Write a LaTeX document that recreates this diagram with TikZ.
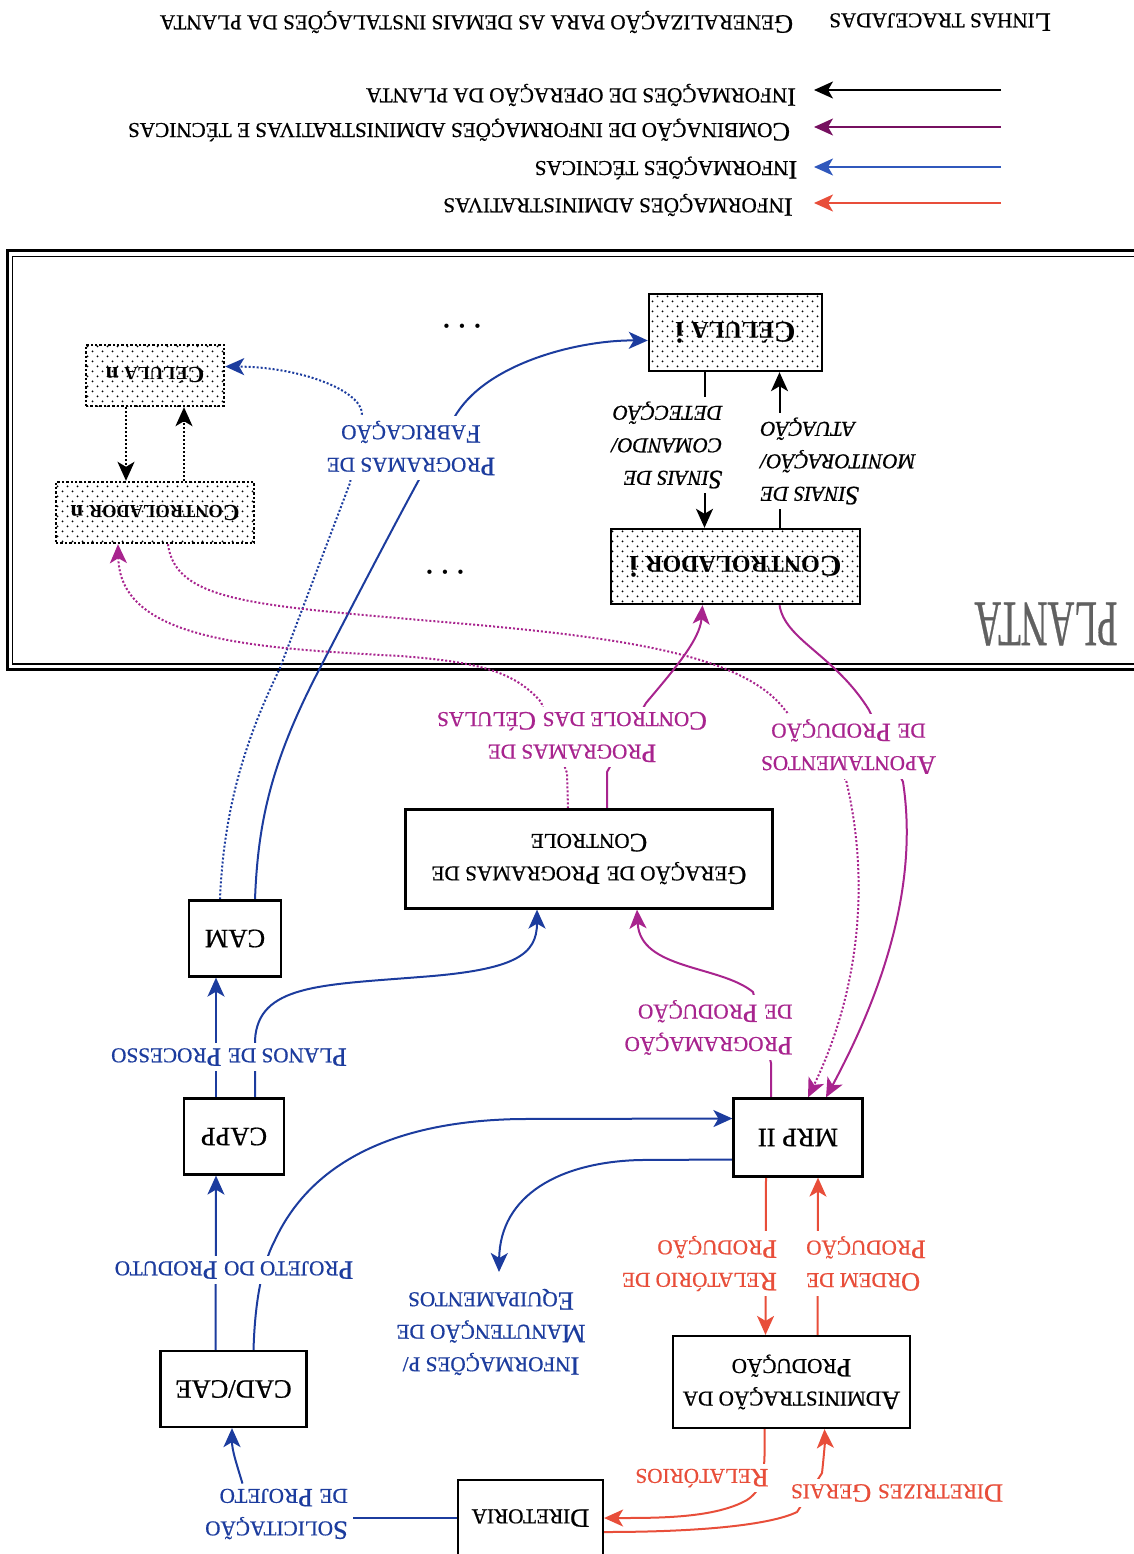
\documentclass[tikz,border=0pt]{standalone}
\usepackage{fontspec}
\setmainfont{Liberation Serif}[UprightFeatures={FakeBold=0.7}, ItalicFeatures={FakeBold=0.7}]
\usepackage{graphicx}
\usetikzlibrary{arrows.meta,calc,patterns}

\definecolor{techblue}{RGB}{28,60,158}
\definecolor{legblue}{RGB}{48,88,188}
\definecolor{combo}{RGB}{168,36,142}
\definecolor{legcombo}{RGB}{118,16,96}
\definecolor{admred}{RGB}{232,78,58}

% small capitals built from reduced upper-case letters
\makeatletter
\newcommand\sm[1]{{\fontsize{\dimexpr\f@size pt*4/5\relax}{\f@baselineskip}\selectfont#1}}
\makeatother
\newcommand\txtsize{\fontsize{26.5}{32.5}\selectfont}
\newcommand\celltxt{\fontsize{30}{36}\selectfont\bfseries}
\newcommand\cellntxt{\fontsize{23}{28}\selectfont\bfseries}

% dotted screen of the plant cells and controllers
\pgfdeclarepatternformonly{celldots}{\pgfqpoint{-1pt}{-1pt}}{\pgfqpoint{11pt}{11pt}}{\pgfqpoint{10pt}{10pt}}{%
  \pgfpathcircle{\pgfqpoint{2.5pt}{2.5pt}}{1pt}%
  \pgfpathcircle{\pgfqpoint{7.5pt}{7.5pt}}{1pt}%
  \pgfusepath{fill}}

\pgfdeclarelayer{bg}
\pgfsetlayers{bg,main}

\begin{document}
\begin{tikzpicture}[rotate=180, x={(-1pt,0pt)}, y={(0pt,1pt)},
  every node/.append style={transform shape},
  >={Stealth[length=19pt,width=17pt,inset=5pt]},
  procbox/.style={draw, line width=2.2pt, inner sep=0pt, align=center, font=\txtsize},
  cellbox/.style={draw, line width=2.4pt, inner sep=0pt, pattern=celldots, font=\celltxt},
  cellnbox/.style={cellbox, dotted, font=\cellntxt},
  lbl/.style={fill=white, inner sep=5pt, align=center, font=\txtsize},
  itlbl/.style={lbl, font=\txtsize\itshape},
  legtxt/.style={font=\txtsize},
  conn/.style={line width=2pt},
  opline/.style={conn, draw=black},
  techline/.style={conn, draw=techblue},
  comboline/.style={conn, draw=combo},
  admline/.style={conn, draw=admred}]

\useasboundingbox (0,0) rectangle (1134,1554);

% ---------- legend ----------
\node[legtxt] (hdashed) at (940,22) {L\sm{INHAS TRACEJADAS}};
\node[legtxt] (hgeneral) at (476.5,22) {G\sm{ENERALIZAÇÃO PARA AS DEMAIS INSTALAÇÕES DA PLANTA}};
\node[legtxt] (kop) at (581,95) {I\sm{NFORMAÇÕES DE OPERAÇÃO DA PLANTA}};
\node[legtxt] (kcombo) at (459,130) {C\sm{OMBINAÇÃO DE INFORMAÇÕES ADMINISTRATIVAS E TÉCNICAS}};
\node[legtxt] (ktech) at (666,168) {I\sm{NFORMAÇÕES TÉCNICAS}};
\node[legtxt] (kadm) at (618,205) {I\sm{NFORMAÇÕES ADMINISTRATIVAS}};
\coordinate (kop0) at (1001,90);   \coordinate (kop1) at (814,90);
\coordinate (kcombo0) at (1001,127); \coordinate (kcombo1) at (814,127);
\coordinate (ktech0) at (1001,167);  \coordinate (ktech1) at (814,167);
\coordinate (kadm0) at (1001,203);   \coordinate (kadm1) at (814,203);

% ---------- plant ----------
\node[text=black!62] (planta) at (1046,624) {\scalebox{0.57}[1]{\fontsize{65}{65}\selectfont PLANTA}};
\node[cellbox, minimum width=173pt, minimum height=77pt] (celli) at (735.5,332.5) {C\sm{ÉLULA} i};
\node[cellbox, minimum width=249pt, minimum height=75pt] (ctrli) at (735.5,566.5) {C\sm{ONTROLADOR} i};
\node[cellnbox, minimum width=138pt, minimum height=61pt] (celln) at (155,375.5) {C\sm{ÉLULA} n};
\node[cellnbox, minimum width=198pt, minimum height=61pt] (ctrln) at (155,512.5) {C\sm{ONTROLADOR} n};
\node[font=\txtsize\bfseries] (dotsa) at (462,326) {.\,\,.\,\,.};
\node[font=\txtsize\bfseries] (dotsb) at (445,572) {.\,\,.\,\,.};

% ---------- processing blocks ----------
\node[procbox, minimum width=92pt, minimum height=76pt] (cam) at (235,938.5) {CAM};
\node[procbox, minimum width=100pt, minimum height=76pt] (capp) at (234,1136.5) {CAPP};
\node[procbox, minimum width=146pt, minimum height=76pt] (cad) at (233.5,1389) {CAD/CAE};
\node[procbox, minimum width=145pt, minimum height=76pt] (dir) at (530.5,1518) {D\sm{IRETORIA}};
\node[procbox, minimum width=367pt, minimum height=99pt] (ger) at (589,859) {G\sm{ERAÇÃO DE} P\sm{ROGRAMAS DE}\\C\sm{ONTROLE}};
\node[procbox, minimum width=129pt, minimum height=78pt] (mrp) at (798,1137.5) {MRP II};
\node[procbox, minimum width=237pt, minimum height=92pt] (adm) at (791.5,1382) {A\sm{DMINISTRAÇÃO DA}\\P\sm{RODUÇÃO}};

% ---------- connector labels ----------
\node[lbl, text=techblue] (fab) at (411,448) {P\sm{ROGRAMAS DE}\\F\sm{ABRICAÇÃO}};
\node[itlbl, align=left] (sincmd) at (667,445) {S\sm{INAIS DE}\\\sm{COMANDO/}\\\sm{DETECÇÃO}};
\node[itlbl, align=right] (sinmon) at (838,461) {S\sm{INAIS DE}\\\sm{MONITORAÇÃO/}\\\sm{ATUAÇÃO}};
\node[lbl, text=combo] (pcc) at (572,737) {P\sm{ROGRAMAS DE}\\C\sm{ONTROLE DAS} C\sm{ÉLULAS}};
\node[lbl, text=combo] (apont) at (848.5,746.5) {A\sm{PONTAMENTOS}\\\sm{DE} P\sm{RODUÇÃO}};
\node[lbl, text=techblue] (planos) at (229,1057) {P\sm{LANOS DE} P\sm{ROCESSO}};
\node[lbl, text=combo, align=left] (progp) at (708.5,1027.5) {P\sm{ROGRAMAÇÃO}\\\sm{DE} P\sm{RODUÇÃO}};
\node[lbl, text=techblue] (projp) at (234,1270) {P\sm{ROJETO DO} P\sm{RODUTO}};
\node[lbl, text=techblue] (info) at (491,1332) {I\sm{NFORMAÇÕES P/}\\M\sm{ANUTENÇÃO DE}\\E\sm{QUIPAMENTOS}};
\node[lbl, text=admred, align=left] (relp) at (699.5,1263.5) {R\sm{ELATÓRIO DE}\\P\sm{RODUÇÃO}};
\node[lbl, text=admred, align=right] (ordp) at (866,1263.5) {O\sm{RDEM DE}\\P\sm{RODUÇÃO}};
\node[lbl, text=admred] (rels) at (702,1478) {R\sm{ELATÓRIOS}};
\node[lbl, text=admred] (dirg) at (897,1493) {D\sm{IRETRIZES} G\sm{ERAIS}};
\node[lbl, text=techblue, align=left] (sol) at (276.5,1514) {S\sm{OLICITAÇÃO}\\\sm{DE} P\sm{ROJETO}};
\coordinate (infoend) at (499,1272);

\begin{pgfonlayer}{bg}
% legend arrows
\draw[opline, ->] (kop0) -- (kop1);
\draw[conn, draw=legcombo, ->] (kcombo0) -- (kcombo1);
\draw[conn, draw=legblue, ->] (ktech0) -- (ktech1);
\draw[admline, ->] (kadm0) -- (kadm1);

% plant frame (double rule, open to the right)
\draw[line width=3pt] (1150,251) -- (7,251) -- (7,669) -- (1150,669);
\draw[line width=1.2pt] (1150,256.5) -- (12.5,256.5) -- (12.5,664) -- (1150,664);

% plant operation signals
\draw[opline, ->] ($(celli.north)+(-31,0)$) -- ($(ctrli.south)+(-31,0)$);
\draw[opline, ->] ($(ctrli.south)+(44,0)$) -- ($(celli.north)+(44,0)$);
\draw[opline, dotted, ->] ($(celln.north)+(-29,0)$) -- ($(ctrln.south)+(-29,0)$);
\draw[opline, dotted, ->] ($(ctrln.south)+(29,0)$) -- ($(celln.north)+(29,0)$);

% technical information
\draw[techline, ->] ($(cam.south)+(20,0)$) .. controls (258,820) and (272,760) .. (320,668)
  .. controls (350,610) and (430,455) .. (457,413)
  .. controls (490,362) and (580,340) .. ($(celli.east)+(0,8)$);
\draw[techline, dotted, ->] ($(cam.south)+(-15,0)$) .. controls (224,800) and (250,730) .. (280,668)
  -- (350,483) -- (362,413)
  .. controls (360,390) and (300,367) .. ($(celln.west)+(0,-9)$);
\draw[techline, ->] ($(capp.south)+(-18,0)$) -- ($(cam.north)+(-19,0)$);
\draw[techline, ->] ($(capp.south)+(21,0)$) -- (255,1040)
  .. controls (258,985) and (320,985) .. (420,977)
  .. controls (515,970) and (537,955) .. ($(ger.north)+(-52,0)$);
\draw[techline, ->] ($(cad.south)+(-18,0)$) -- ($(capp.north)+(-18,0)$);
\draw[techline, ->] ($(cad.south)+(20,0)$) .. controls (255,1300) and (262,1265) .. (275,1240)
  .. controls (310,1165) and (390,1121) .. (520,1119) -- ($(mrp.east)+(0,-19)$);
\draw[techline, ->] ($(mrp.east)+(0,22)$) -- (640,1160)
  .. controls (560,1162) and (500,1195) .. (infoend);
\draw[techline] (dir.east) -- (dir.east -| sol.west);
\draw[techline, ->] ($(sol.south)+(-34,0)$) .. controls (236,1462) and (232,1450) .. ($(cad.north)+(-1.5,0)$);

% combined information
\draw[comboline, ->] ($(ger.south)+(18,0)$) -- (607,772) -- (646,703)
  .. controls (672,672) and (700,640) .. ($(ctrli.north)+(-33,0)$);
\draw[comboline, dotted, ->] ($(ger.south)+(-21,0)$) -- (567,773) -- (541,702)
  .. controls (515,672) and (480,662) .. (400,656)
  .. controls (250,648) and (120,640) .. ($(ctrln.north)+(-37,0)$);
\draw[comboline, dotted, ->] ($(ctrln.north)+(13,0)$) .. controls (175,600) and (250,605) .. (420,620)
  .. controls (600,635) and (740,650) .. (785,710) -- (846,780)
  .. controls (870,880) and (860,990) .. ($(mrp.south)+(10,0)$);
\draw[comboline, ->] ($(ctrli.north)+(44,0)$) .. controls (785,640) and (835,655) .. (869,710)
  -- (903,782) .. controls (915,860) and (900,960) .. ($(mrp.south)+(28,0)$);
\draw[comboline, ->] ($(mrp.south)+(-27,0)$) -- (771,1063) -- (753,992)
  .. controls (720,965) and (640,970) .. ($(ger.north)+(48,0)$);

% administrative information
\draw[admline, ->] ($(mrp.north)+(-32,0)$) -- ($(adm.south)+(-26,0)$);
\draw[admline, ->] ($(adm.south)+(26,0)$) -- ($(mrp.north)+(20,0)$);
\draw[admline, ->] ($(adm.north)+(-27,0)$) .. controls (765,1470) and (765,1488) .. (747,1500)
  .. controls (715,1518) and (660,1518) .. (dir.west);
\draw[admline, ->] ($(dir.west)+(0,14)$) .. controls (700,1532) and (770,1525) .. (797,1512)
  -- (822,1473) .. controls (824,1455) and (825,1440) .. ($(adm.north)+(33,0)$);
\end{pgfonlayer}
\end{tikzpicture}
\end{document}
